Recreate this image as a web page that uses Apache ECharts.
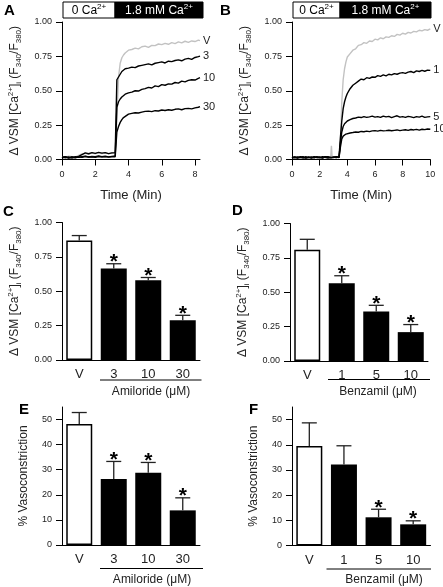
<!DOCTYPE html>
<html><head><meta charset="utf-8">
<script src="https://cdn.jsdelivr.net/npm/echarts@6/dist/echarts.min.js"></script>
<style>html,body{margin:0;padding:0;background:#fff}#c{width:443px;height:587px}</style>
</head><body><div id="c"></div>
<script>
// ---------- DATA ----------
// Panel A: time course (min) and traces (amiloride, µM)
const timeA = [0,0.2,0.4,0.6,0.8,1.0,1.2,1.4,1.6,1.8,2.0,2.2,2.4,2.6,2.8,3.0,3.2,3.3,3.4,3.5,3.6,3.7,3.8,4.0,4.2,4.4,4.6,4.8,5.0,5.2,5.4,5.6,5.8,6.0,6.2,6.4,6.6,6.8,7.0,7.2,7.4,7.6,7.8,8.0,8.2,8.3];
const traceA_V  = [0.02,0.015,0.025,0.02,0.018,0.03,0.04,0.045,0.038,0.047,0.042,0.05,0.044,0.048,0.041,0.046,0.045,0.30,0.60,0.70,0.74,0.76,0.775,0.795,0.80,0.81,0.805,0.82,0.825,0.815,0.83,0.828,0.84,0.835,0.845,0.838,0.85,0.843,0.855,0.848,0.86,0.852,0.862,0.858,0.868,0.865];
const traceA_3  = [0.01,0.02,0.012,0.018,0.015,0.022,0.035,0.048,0.042,0.05,0.045,0.052,0.046,0.05,0.043,0.048,0.05,0.58,0.57,0.62,0.64,0.65,0.66,0.665,0.672,0.668,0.68,0.685,0.69,0.695,0.688,0.70,0.705,0.71,0.702,0.715,0.712,0.72,0.725,0.718,0.73,0.735,0.728,0.742,0.748,0.752];
const traceA_10 = [0.02,0.012,0.018,0.01,0.02,0.015,0.02,0.025,0.018,0.022,0.02,0.026,0.02,0.024,0.019,0.023,0.025,0.38,0.42,0.44,0.455,0.465,0.475,0.485,0.49,0.50,0.498,0.51,0.515,0.525,0.52,0.535,0.53,0.545,0.54,0.55,0.548,0.56,0.555,0.57,0.565,0.575,0.58,0.578,0.59,0.595];
const traceA_30 = [0.015,0.02,0.01,0.018,0.012,0.02,0.015,0.022,0.018,0.02,0.016,0.022,0.019,0.021,0.017,0.02,0.02,0.20,0.24,0.27,0.29,0.305,0.315,0.33,0.335,0.34,0.338,0.345,0.35,0.352,0.348,0.355,0.353,0.36,0.356,0.362,0.358,0.365,0.368,0.362,0.37,0.372,0.368,0.375,0.38,0.385];
const namesA = ['V','3','10','30'];

// Panel B: time course (min) and traces (benzamil, µM)
const timeB = [0,0.2,0.4,0.6,0.8,1.0,1.2,1.4,1.6,1.8,2.0,2.2,2.4,2.6,2.8,2.85,2.9,3.0,3.2,3.4,3.5,3.6,3.7,3.8,3.9,4.0,4.2,4.4,4.6,4.8,5.0,5.2,5.4,5.6,5.8,6.0,6.2,6.4,6.6,6.8,7.0,7.2,7.4,7.6,7.8,8.0,8.2,8.4,8.6,8.8,9.0,9.2,9.4,9.6,9.8,10.0];
const traceB_V  = [0.015,0.01,0.02,0.012,0.018,0.01,0.016,0.02,0.012,0.018,0.014,0.02,0.015,0.012,0.018,0.10,0.02,0.015,0.012,0.018,0.12,0.42,0.58,0.66,0.71,0.745,0.77,0.795,0.805,0.83,0.835,0.85,0.845,0.862,0.858,0.875,0.87,0.885,0.878,0.892,0.888,0.9,0.895,0.91,0.905,0.918,0.912,0.925,0.92,0.932,0.928,0.94,0.935,0.945,0.94,0.95];
const traceB_1  = [0.01,0.018,0.012,0.02,0.015,0.01,0.018,0.012,0.02,0.015,0.018,0.012,0.02,0.016,0.012,0.02,0.015,0.018,0.014,0.02,0.16,0.28,0.37,0.42,0.455,0.48,0.515,0.54,0.555,0.57,0.585,0.58,0.595,0.59,0.60,0.598,0.61,0.605,0.615,0.608,0.62,0.615,0.625,0.62,0.628,0.632,0.626,0.635,0.64,0.632,0.645,0.64,0.648,0.642,0.65,0.648];
const traceB_5  = [0.02,0.012,0.018,0.015,0.01,0.02,0.014,0.018,0.012,0.02,0.015,0.01,0.018,0.02,0.015,0.012,0.018,0.014,0.02,0.015,0.12,0.2,0.24,0.26,0.27,0.28,0.29,0.298,0.302,0.308,0.305,0.312,0.306,0.31,0.315,0.308,0.312,0.306,0.316,0.31,0.314,0.305,0.312,0.318,0.308,0.312,0.306,0.314,0.31,0.305,0.312,0.308,0.315,0.306,0.31,0.312];
const traceB_10 = [0.012,0.018,0.01,0.016,0.02,0.012,0.015,0.01,0.018,0.014,0.012,0.02,0.016,0.01,0.015,0.018,0.012,0.016,0.02,0.014,0.09,0.15,0.17,0.178,0.185,0.19,0.193,0.196,0.2,0.198,0.204,0.202,0.206,0.203,0.208,0.21,0.206,0.212,0.208,0.21,0.213,0.209,0.212,0.215,0.21,0.214,0.216,0.212,0.218,0.215,0.219,0.214,0.22,0.217,0.222,0.22];
const namesB = ['V','1','5','10'];

const timeTicksA = [0,2,4,6,8];

// Panels C-F: bar means, SEM and significance
const catC = ['V','3','10','30'];
const meanC = [0.87,0.665,0.58,0.29];
const errC  = [0.035,0.035,0.02,0.035];
const sigC  = [0,1,1,1];

const catD = ['V','1','5','10'];
const meanD = [0.81,0.565,0.36,0.21];
const errD  = [0.075,0.055,0.045,0.055];
const sigD  = [0,1,1,1];

const catE = ['V','3','10','30'];
const meanE = [48.2,26.3,28.8,13.8];
const errE  = [4.6,7.0,4.1,5.0];
const sigE  = [0,1,1,1];

const catF = ['V','1','5','10'];
const meanF = [39.5,32.2,11.2,8.4];
const errF  = [9.2,7.4,3.2,1.4];
const sigF  = [0,0,1,1];

const pctTicks = [0,10,20,30,40,50];

// ---------- CHART ----------
const FONT = '"Liberation Sans", Arial, Helvetica, sans-serif';
const TXT = '#222';
const chart = echarts.init(document.getElementById('c'), null, {renderer:'canvas', width:443, height:587});

const ratioName = '{m|Δ VSM [Ca}{sup|2+}{m|]}{sub|i}{m| (F}{sub|340}{m|/F}{sub|380}{m|)}';
const ratioRich = {
  m:{fontSize:12, lineHeight:16, verticalAlign:'middle', color:TXT, fontFamily:FONT},
  sup:{fontSize:8, lineHeight:9, verticalAlign:'top', color:TXT, fontFamily:FONT},
  sub:{fontSize:8, lineHeight:8, verticalAlign:'bottom', color:TXT, fontFamily:FONT}
};
const axLine = {show:true, onZero:false, lineStyle:{color:'#000', width:1}};
const axTick = {show:true, length:6, inside:false, lineStyle:{color:'#000', width:1}};

function ratioY(gi){
  return {gridIndex:gi, type:'value', min:0, max:1, interval:0.25,
    axisLine:axLine, axisTick:axTick, splitLine:{show:false},
    axisLabel:{fontSize:9, margin:10, color:TXT, fontFamily:FONT, formatter:v=>v.toFixed(2)},
    name:ratioName, nameLocation:'middle', nameGap:39, nameRotate:90,
    nameTextStyle:{rich:ratioRich}};
}
function pctY(gi){
  return {gridIndex:gi, type:'value', min:0, max:55,
    axisLine:axLine, splitLine:{show:false},
    axisTick:Object.assign({}, axTick, {customValues:pctTicks}),
    axisLabel:{fontSize:9, margin:10, color:TXT, fontFamily:FONT, customValues:pctTicks},
    name:'% Vasoconstriction', nameLocation:'middle', nameGap:32, nameRotate:90,
    nameTextStyle:{fontSize:12, color:TXT, fontFamily:FONT}};
}
function catX(gi, cats){
  return {gridIndex:gi, type:'category', data:cats, axisLine:axLine, axisTick:{show:false},
    axisLabel:{fontSize:13, margin:8, color:TXT, fontFamily:FONT}};
}
function traceSeries(gi, name, times, vals, color){
  return {type:'line', xAxisIndex:gi, yAxisIndex:gi, name:name,
    data: times.map((t,i)=>[t, vals[i]]), showSymbol:false, symbol:'none',
    lineStyle:{color:color, width:1.4}, itemStyle:{color:color}, animation:false,
    endLabel:{show:true, formatter:'{a}', fontSize:11, color:TXT, fontFamily:FONT, distance:3}};
}
function barSeries(gi, cats, means){
  return {type:'bar', xAxisIndex:gi, yAxisIndex:gi, barWidth:26, animation:false,
    data: means.map((v,i)=>({value:v, itemStyle: i===0 ? {color:'#fff', borderColor:'#000', borderWidth:1.5} : {color:'#000'}}))};
}
function errSeries(gi, means, errs, sigs){
  return {type:'custom', xAxisIndex:gi, yAxisIndex:gi, animation:false, z:5,
    data: means.map((m,i)=>[i, m, errs[i], sigs[i]]),
    encode:{x:0, y:1},
    renderItem:(params, api)=>{
      const i = api.value(0), m = api.value(1), e = api.value(2), s = api.value(3);
      const p0 = api.coord([i, m]), p1 = api.coord([i, m+e]);
      const st = {stroke:'#222', lineWidth:1.3};
      const ch = [
        {type:'line', shape:{x1:p0[0], y1:p0[1], x2:p1[0], y2:p1[1]}, style:st},
        {type:'line', shape:{x1:p1[0]-7.5, y1:p1[1], x2:p1[0]+7.5, y2:p1[1]}, style:st}
      ];
      if (s) ch.push({type:'text', style:{text:'*', x:p1[0], y:p1[1]-1.5, align:'center', verticalAlign:'middle', font:'bold 21px '+FONT, fill:'#000'}});
      return {type:'group', children:ch};
    }};
}

const grids = [
  {left:62, top:22, width:138, height:137.5},
  {left:292, top:22, width:138.3, height:137.5},
  {left:62, top:222.5, width:138, height:137.5},
  {left:290, top:223.5, width:138, height:137.5},
  {left:62, top:407, width:138, height:138},
  {left:292, top:407, width:138.5, height:138.5}
];

const xAxes = [
  {gridIndex:0, type:'value', min:0, max:8.3, axisLine:axLine, splitLine:{show:false},
   axisTick:Object.assign({}, axTick, {customValues:timeTicksA}),
   axisLabel:{fontSize:9, margin:11, color:TXT, fontFamily:FONT, customValues:timeTicksA},
   name:'Time (Min)', nameLocation:'middle', nameGap:29, nameTextStyle:{fontSize:13, color:TXT, fontFamily:FONT}},
  {gridIndex:1, type:'value', min:0, max:10, interval:2, axisLine:axLine, splitLine:{show:false}, axisTick:axTick,
   axisLabel:{fontSize:9, margin:11, color:TXT, fontFamily:FONT},
   name:'Time (Min)', nameLocation:'middle', nameGap:29, nameTextStyle:{fontSize:13, color:TXT, fontFamily:FONT}},
  catX(2, catC), catX(3, catD), catX(4, catE), catX(5, catF)
];
const yAxes = [ratioY(0), ratioY(1), ratioY(2), ratioY(3), pctY(4), pctY(5)];

const series = [
  traceSeries(0, namesA[0], timeA, traceA_V, '#c2c2c2'),
  traceSeries(0, namesA[1], timeA, traceA_3, '#000'),
  traceSeries(0, namesA[2], timeA, traceA_10, '#000'),
  traceSeries(0, namesA[3], timeA, traceA_30, '#000'),
  traceSeries(1, namesB[0], timeB, traceB_V, '#c2c2c2'),
  traceSeries(1, namesB[1], timeB, traceB_1, '#000'),
  traceSeries(1, namesB[2], timeB, traceB_5, '#000'),
  traceSeries(1, namesB[3], timeB, traceB_10, '#000'),
  barSeries(2, catC, meanC), errSeries(2, meanC, errC, sigC),
  barSeries(3, catD, meanD), errSeries(3, meanD, errD, sigD),
  barSeries(4, catE, meanE), errSeries(4, meanE, errE, sigE),
  barSeries(5, catF, meanF), errSeries(5, meanF, errF, sigF)
];

const capRich = {n:{fontSize:12, lineHeight:15, verticalAlign:'middle', fontFamily:FONT}, s:{fontSize:8, lineHeight:8, verticalAlign:'top', fontFamily:FONT}};
function headerBox(x0, w0, w1){
  const y = 2, h = 16;
  return [
    {type:'rect', shape:{x:x0, y:y, width:w0, height:h}, style:{fill:'#fff', stroke:'#000', lineWidth:1}},
    {type:'rect', shape:{x:x0+w0, y:y, width:w1, height:h}, style:{fill:'#000', stroke:'#000', lineWidth:1}},
    {type:'text', style:{text:'{n|0 Ca}{s|2+}', rich:{n:Object.assign({}, capRich.n, {color:'#000'}), s:Object.assign({}, capRich.s, {color:'#000'})}, x:x0+w0/2, y:y+h/2+0.5, align:'center', verticalAlign:'middle', fill:'#000'}},
    {type:'text', style:{text:'{n|1.8 mM Ca}{s|2+}', rich:{n:Object.assign({}, capRich.n, {color:'#fff'}), s:Object.assign({}, capRich.s, {color:'#fff'})}, x:x0+w0+w1/2, y:y+h/2+0.5, align:'center', verticalAlign:'middle', fill:'#fff'}}
  ];
}
function letter(t, x, y){ return {type:'text', style:{text:t, x:x, y:y, font:'bold 15px '+FONT, fill:'#000'}}; }
function drugLabel(x1, x2, yl, txt, cx, ty){
  return [
    {type:'line', shape:{x1:x1, y1:yl, x2:x2, y2:yl}, style:{stroke:'#000', lineWidth:1}},
    {type:'text', style:{text:txt, x:cx, y:ty, align:'center', verticalAlign:'middle', font:'12px '+FONT, fill:TXT}}
  ];
}

const graphic = [].concat(
  headerBox(63, 52, 88),
  headerBox(293, 47, 91),
  [letter('A',4,3), letter('B',220,3), letter('C',3,204), letter('D',232,203), letter('E',19,402), letter('F',249,402)],
  drugLabel(100, 201.5, 380, 'Amiloride (μM)', 151, 392),
  drugLabel(328, 430, 379.5, 'Benzamil (μM)', 378, 392),
  drugLabel(100, 203, 568.5, 'Amiloride (μM)', 152, 580),
  drugLabel(326.5, 431, 569, 'Benzamil (μM)', 384, 580)
);

chart.setOption({
  animation:false,
  backgroundColor:'#fff',
  textStyle:{fontFamily:FONT},
  grid:grids, xAxis:xAxes, yAxis:yAxes, series:series, graphic:graphic
});
</script>
</body></html>
